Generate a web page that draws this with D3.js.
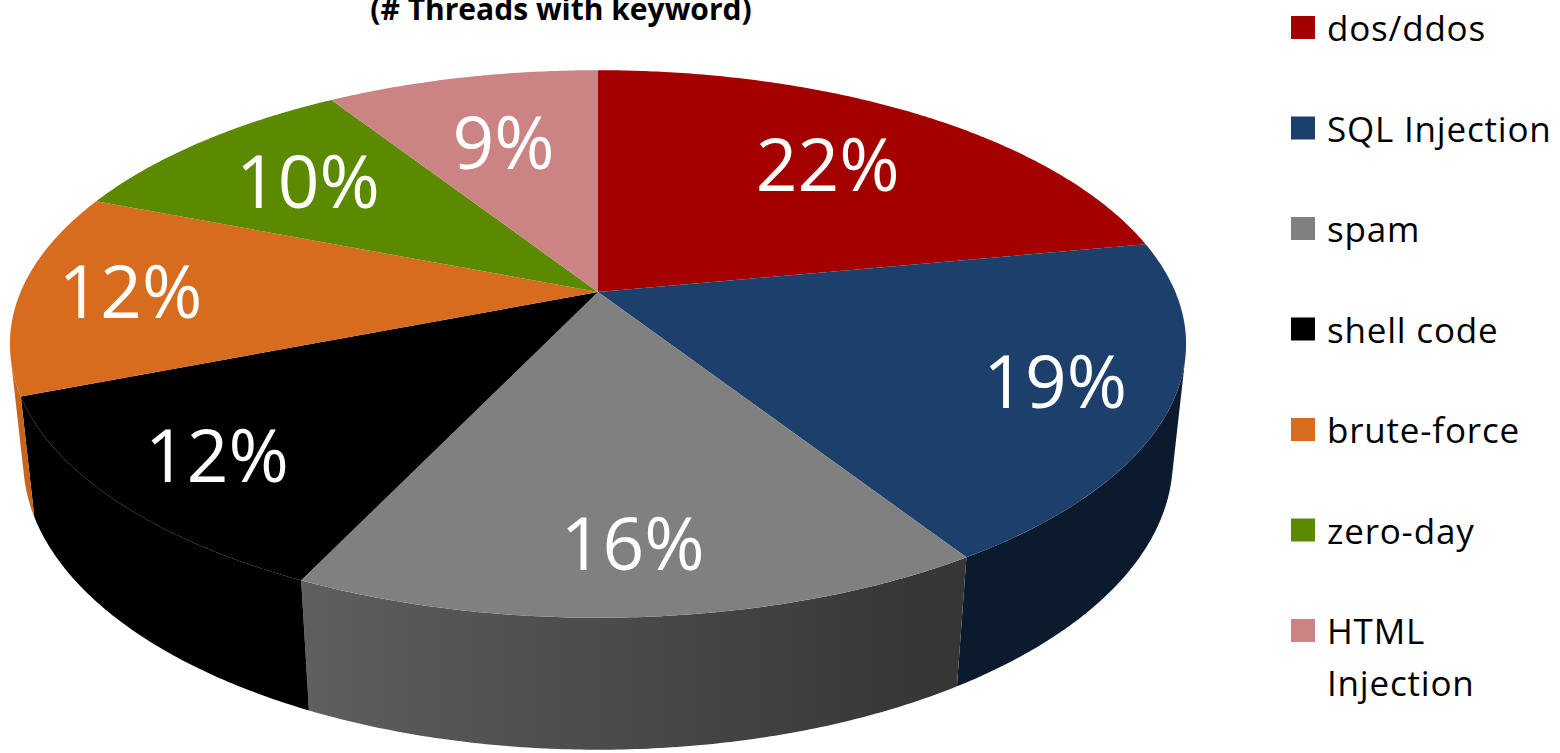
<!DOCTYPE html>
<html>
<head>
<meta charset="utf-8">
<script src="https://cdn.jsdelivr.net/npm/d3@7"></script>
<style>
  html, body { margin: 0; padding: 0; background: #ffffff; }
  svg { display: block; }
  text { font-family: "Open Sans", "Noto Sans", sans-serif; }
</style>
</head>
<body>
<svg id="chart" width="1560" height="753"></svg>
<script>
// Keyword share of forum threads
const categories = ["dos/ddos", "SQL Injection", "spam", "shell code", "brute-force", "zero-day", "HTML Injection"];
const shares = [22, 19, 16, 12, 12, 10, 9];
const colors = ["#A50000", "#1C3F6C", "#808080", "#000000", "#D86C1E", "#5B8A00", "#CC8383"];
const titleText = "(# Threads with keyword)";

const svg = d3.select("#chart");
const defs = svg.append("defs");

// Perspective camera looking down at a unit-radius disc
const cam = {
  cx: 598, cy: 292,          // screen position of the disc centre
  f: 2705,                    // focal length in px
  dist: 4.685,                // camera distance (disc radii)
  tilt: 27.2 * Math.PI / 180, // elevation of the view
  depth: 0.228                // pie thickness (disc radii)
};
const sinT = Math.sin(cam.tilt), cosT = Math.cos(cam.tilt);

// theta: clockwise from 12 o'clock (far side); h: height (0 = top face)
function project(theta, r, h) {
  const u = r * Math.sin(theta);
  const v = -r * Math.cos(theta);
  const d = cam.dist - (v * cosT + h * sinT);
  return [cam.cx + cam.f * u / d, cam.cy + cam.f * (v * sinT - h * cosT) / d];
}

const pie = d3.pie().sort(null).value(d => d);
const arcs = pie(shares).map((a, i) => ({ ...a, i }));

const line = d3.line();
const step = Math.PI / 360;
function rimPoints(a0, a1, h) {
  const n = Math.max(2, Math.ceil((a1 - a0) / step));
  return d3.range(n + 1).map(k => project(a0 + (a1 - a0) * k / n, 1, h));
}

// The outer wall faces the camera where v > 1 / (dist * cos(tilt))
const vMin = 1 / (cam.dist * cosT);
const wallFrom = Math.acos(-vMin), wallTo = 2 * Math.PI - wallFrom;

// Wall shading: lit from the left, darker toward the right
function shade(color, theta) {
  const u = Math.sin(theta);
  const k = Math.max(0.42, 0.59 - 0.36 * u);
  const c = d3.rgb(color);
  return d3.rgb(c.r * k, c.g * k, c.b * k).formatHex();
}

const sides = svg.append("g").attr("class", "sides");
arcs.forEach(a => {
  const t0 = Math.max(a.startAngle, wallFrom);
  const t1 = Math.min(a.endAngle, wallTo);
  if (t1 <= t0) return;
  const top = rimPoints(t0, t1, 0);
  const bottom = rimPoints(t0, t1, -cam.depth).reverse();
  const x1 = top[0][0], x2 = top[top.length - 1][0];
  const gid = "wall" + a.i;
  const grad = defs.append("linearGradient")
    .attr("id", gid)
    .attr("gradientUnits", "userSpaceOnUse")
    .attr("x1", x1).attr("y1", 0).attr("x2", x2).attr("y2", 0);
  d3.range(11).forEach(k => {
    const t = t0 + (t1 - t0) * k / 10;
    const x = project(t, 1, 0)[0];
    grad.append("stop")
      .attr("offset", (x - x1) / (x2 - x1))
      .attr("stop-color", shade(colors[a.i], t));
  });
  sides.append("path")
    .attr("d", line(top.concat(bottom)) + "Z")
    .attr("fill", `url(#${gid})`);
});

// Top faces
const tops = svg.append("g").attr("class", "tops");
const centre = project(0, 0, 0);
arcs.forEach(a => {
  const pts = [centre].concat(rimPoints(a.startAngle, a.endAngle, 0));
  tops.append("path")
    .attr("d", line(pts) + "Z")
    .attr("fill", colors[a.i]);
});

// Percentage labels; far-side labels pulled inward on the foreshortened slices
const labelSize = 73;
svg.append("g").attr("class", "labels")
  .selectAll("text")
  .data(arcs)
  .join("text")
  .each(function (a) {
    const mid = (a.startAngle + a.endAngle) / 2;
    const v = -Math.cos(mid);
    const r = 0.81 + 0.16 * Math.min(0, v);
    const [x, y] = project(mid, r, 0);
    d3.select(this)
      .attr("x", x)
      .attr("y", y + labelSize * 0.357)
      .attr("text-anchor", "middle")
      .attr("font-size", labelSize)
      .attr("fill", "#ffffff")
      .text(d3.format(".0f")(a.data) + "%");
  });

// Title (partly above the top edge)
svg.append("text")
  .attr("x", 561)
  .attr("y", 20)
  .attr("text-anchor", "middle")
  .attr("font-size", 30)
  .attr("font-weight", "bold")
  .attr("fill", "#000000")
  .text(titleText);

// Legend
const legend = svg.append("g").attr("class", "legend")
  .attr("transform", "translate(1291,16)");
const rowGap = 100.5, lineGap = 52, maxText = 232, legendFont = 35;
categories.forEach((name, i) => {
  const row = legend.append("g").attr("transform", `translate(0,${i * rowGap})`);
  row.append("rect")
    .attr("width", 24).attr("height", 23)
    .attr("fill", colors[i]);
  const txt = row.append("text")
    .attr("x", 36).attr("y", 25)
    .attr("font-size", legendFont)
    .attr("letter-spacing", 0.8)
    .attr("fill", "#000000");
  // wrap words that overflow the right edge
  const words = name.split(" ");
  let lineWords = [];
  let tspan = txt.append("tspan").attr("x", 36);
  words.forEach(w => {
    lineWords.push(w);
    tspan.text(lineWords.join(" "));
    if (tspan.node().getComputedTextLength() > maxText && lineWords.length > 1) {
      lineWords.pop();
      tspan.text(lineWords.join(" "));
      lineWords = [w];
      tspan = txt.append("tspan").attr("x", 36).attr("dy", lineGap).text(w);
    }
  });
});
</script>
</body>
</html>
